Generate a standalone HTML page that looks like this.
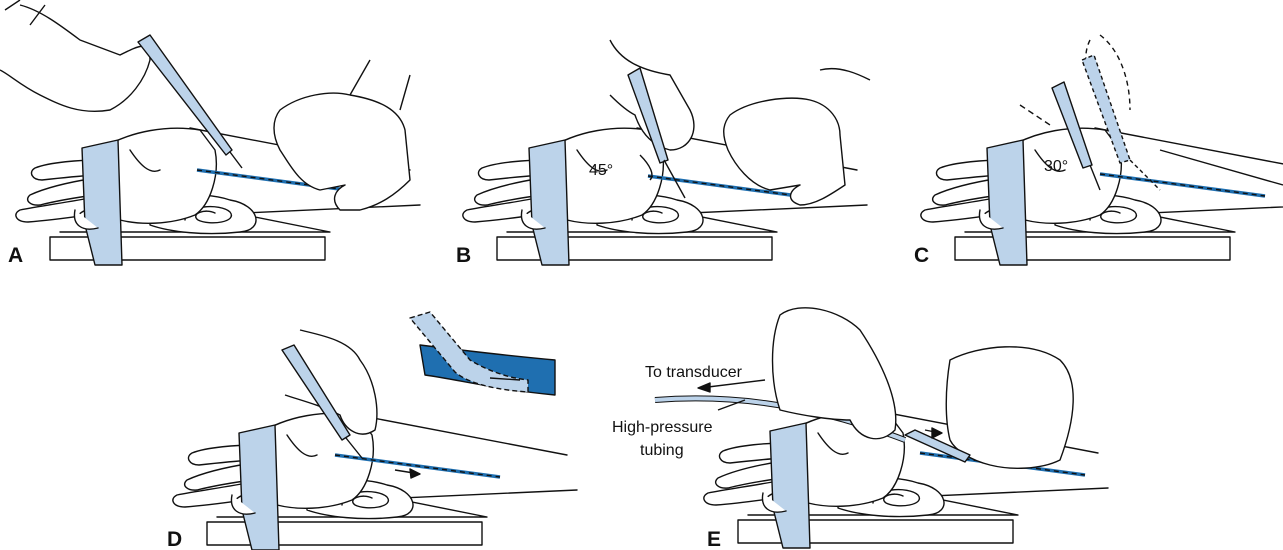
<!DOCTYPE html>
<html><head><meta charset="utf-8"><style>
html,body{margin:0;padding:0;background:#fff;}
svg{display:block;}
text{font-family:"Liberation Sans",sans-serif;fill:#111;}
.l{font-weight:bold;font-size:21px;}
.t{font-size:16px;}
</style></head><body>
<svg width="1283" height="550" viewBox="0 0 1283 550" xmlns="http://www.w3.org/2000/svg">
<defs>
<g id="arm" fill="none" stroke="#111" stroke-width="1.4" stroke-linejoin="round" stroke-linecap="round">
  <!-- base board -->
  <rect x="50" y="237" width="275" height="23" fill="#fff"/>
  <!-- wedge -->
  <path d="M60 232 L150 232 L330 232 L170 200" />
  <!-- forearm -->
  <path d="M190 128 L410 170" />
  <path d="M200 215 L420 205" />
  <!-- rolled towel -->
  <path d="M150 225 C150 195 200 190 230 200 C260 205 265 230 240 232 C205 236 170 232 150 225Z" fill="#fff"/>
  <path d="M185 220 C185 205 220 203 230 212 C238 222 210 226 198 220 C190 214 205 208 215 213"/>
  <!-- hand palm -->
  <path d="M100 150 C130 130 170 125 200 130 L215 150 C220 175 210 205 195 215 C170 225 140 225 120 220" fill="#fff"/>
  <!-- fingers -->
  <path d="M100 160 C80 160 50 162 35 168 C28 172 32 180 42 180 C60 178 80 176 95 175"/>
  <path d="M95 178 C70 182 45 188 30 195 C24 200 30 206 40 205 C60 200 80 197 95 195"/>
  <path d="M95 197 C70 202 40 206 20 210 C12 214 16 222 28 222 C55 220 80 216 95 214"/>
  <path d="M130 150 C140 165 150 175 160 170"/>
  <!-- thumb -->
  <path d="M120 215 C110 225 90 230 80 225 C72 218 80 210 95 208" fill="#fff"/>
  <!-- strap -->
  <path d="M82 148 L118 140 L122 265 L95 265 L85 225 Z" fill="#bcd3ea"/>
  <path d="M75 210 C72 225 82 232 98 228" fill="#fff"/>
</g>
<g id="vessel">
  <line x1="0" y1="0" x2="165" y2="22" stroke="#1f6fb0" stroke-width="3.5"/>
  <line x1="0" y1="0" x2="165" y2="22" stroke="#111" stroke-width="1.4" stroke-dasharray="5 4"/>
</g>
</defs>

<!-- Panel A -->
<use href="#arm"/>
<use href="#vessel" x="197" y="170"/>
<g fill="none" stroke="#111" stroke-width="1.4" stroke-linejoin="round">
  <path d="M20 5 C40 10 60 25 80 40 L120 55 C140 45 150 40 150 60 C145 80 130 100 110 110 C80 115 60 105 40 95 C20 85 10 75 0 70" fill="#fff"/>
  <path d="M5 10 L20 0 M30 25 L45 5"/>
  <polygon points="138,42 150,35 232,150 226,155" fill="#bcd3ea"/>
  <line x1="230" y1="152" x2="242" y2="168"/>
  <path d="M280 110 C300 95 330 90 350 95 C380 100 400 110 405 130 L410 180 C395 195 380 205 360 210 L340 210 C330 200 335 190 345 185 L320 190 C300 185 290 165 280 150 C272 135 272 120 280 110Z" fill="#fff"/>
  <path d="M350 95 L370 60 M400 110 L410 75"/>
</g>
<text x="8" y="262" class="l">A</text>

<!-- Panel B -->
<use href="#arm" x="447"/>
<use href="#vessel" x="648" y="176"/>
<g fill="none" stroke="#111" stroke-width="1.4" stroke-linejoin="round">
  <path d="M610 40 C620 60 640 70 670 75 L690 110 C700 130 690 150 670 150 C650 145 640 130 635 115 C625 110 615 100 610 95" fill="#fff"/>
  <polygon points="628,75 640,68 668,160 660,163" fill="#bcd3ea"/>
  <line x1="664" y1="160" x2="685" y2="198"/>
  <path d="M730 115 C750 100 790 95 810 100 C830 105 840 120 840 135 L845 185 C830 195 815 205 800 205 C785 200 790 190 800 185 L770 190 C750 185 735 165 728 150 C722 135 722 125 730 115Z" fill="#fff"/>
  <path d="M820 70 C840 65 860 75 870 80"/>
  <path d="M640 155 C650 165 655 175 650 180" />
</g>
<text x="589" y="175" class="t">45°</text>
<text x="456" y="262" class="l">B</text>

<!-- Panel C -->
<use href="#arm" x="905"/>
<use href="#vessel" x="1100" y="174"/>
<g fill="none" stroke="#111" stroke-width="1.4" stroke-linejoin="round">
  <path d="M1100 35 C1120 50 1130 80 1130 110 M1090 40 C1080 60 1090 80 1100 95" stroke-dasharray="5 4"/>
  <polygon points="1052,88 1064,82 1092,165 1083,168" fill="#bcd3ea"/>
  <polygon points="1082,60 1094,55 1130,160 1120,163" fill="#bcd3ea" stroke-dasharray="4 3"/>
  <line x1="1090" y1="165" x2="1100" y2="190"/>
  <path d="M1130 160 L1160 190" stroke-dasharray="4 3"/>
  <path d="M1020 105 L1050 125" stroke-dasharray="6 4"/>
  <path d="M1160 150 L1283 185"/>
</g>
<text x="1044" y="171" class="t">30°</text>
<text x="914" y="262" class="l">C</text>

<!-- Panel D -->
<use href="#arm" x="157" y="285"/>
<use href="#vessel" x="335" y="455"/>
<g fill="none" stroke="#111" stroke-width="1.4" stroke-linejoin="round">
  <path d="M300 330 C320 335 350 340 360 360 C375 380 380 410 375 430 C360 440 345 430 340 415 C320 405 300 400 285 395" fill="#fff"/>
  <polygon points="282,350 294,345 350,435 342,440" fill="#bcd3ea"/>
  <line x1="346" y1="438" x2="362" y2="458"/>
  <line x1="395" y1="470" x2="420" y2="474"/>
  <polygon points="420,474 410,469 411,478" fill="#111"/>
  <!-- inset -->
  <path d="M420 345 C460 350 500 355 555 360 L555 395 C500 390 460 380 425 375 Z" fill="#1f6fb0"/>
  <path d="M410 318 L430 312 L470 360 C490 372 510 378 528 380 L528 392 C500 390 470 385 455 372 Z" fill="#bcd3ea" stroke-dasharray="5 3"/>
  <line x1="490" y1="378" x2="520" y2="380"/>
</g>
<text x="167" y="546" class="l">D</text>

<!-- Panel E -->
<use href="#arm" x="688" y="283"/>
<use href="#vessel" x="920" y="453"/>
<g fill="none" stroke="#111" stroke-width="1.4" stroke-linejoin="round">
  <path d="M655 400 C720 395 800 400 905 440" stroke-width="6"/>
  <path d="M655 400 C720 395 800 400 905 440" stroke="#bcd3ea" stroke-width="4"/>
  <line x1="765" y1="380" x2="700" y2="388"/>
  <polygon points="698,388 710,383 710,392" fill="#111"/>
  <line x1="718" y1="410" x2="745" y2="400"/>
  <path d="M780 315 C800 300 840 310 860 330 C880 360 900 400 895 430 C880 445 860 440 850 420 C830 420 800 415 780 410 C770 380 770 340 780 315Z" fill="#fff"/>
  <path d="M950 360 C980 345 1030 340 1060 360 C1080 380 1075 420 1060 460 C1040 470 1010 470 990 465 C970 460 955 450 950 440 C945 420 945 390 950 360Z" fill="#fff"/>
  <polygon points="905,435 915,430 970,455 965,462" fill="#bcd3ea"/>
  <line x1="925" y1="430" x2="940" y2="433"/>
  <polygon points="942,433 932,428 932,438" fill="#111"/>
</g>
<text x="645" y="377" class="t">To transducer</text>
<text x="612" y="432" class="t">High-pressure</text>
<text x="640" y="455" class="t">tubing</text>
<text x="707" y="546" class="l">E</text>
</svg>
</body></html>
